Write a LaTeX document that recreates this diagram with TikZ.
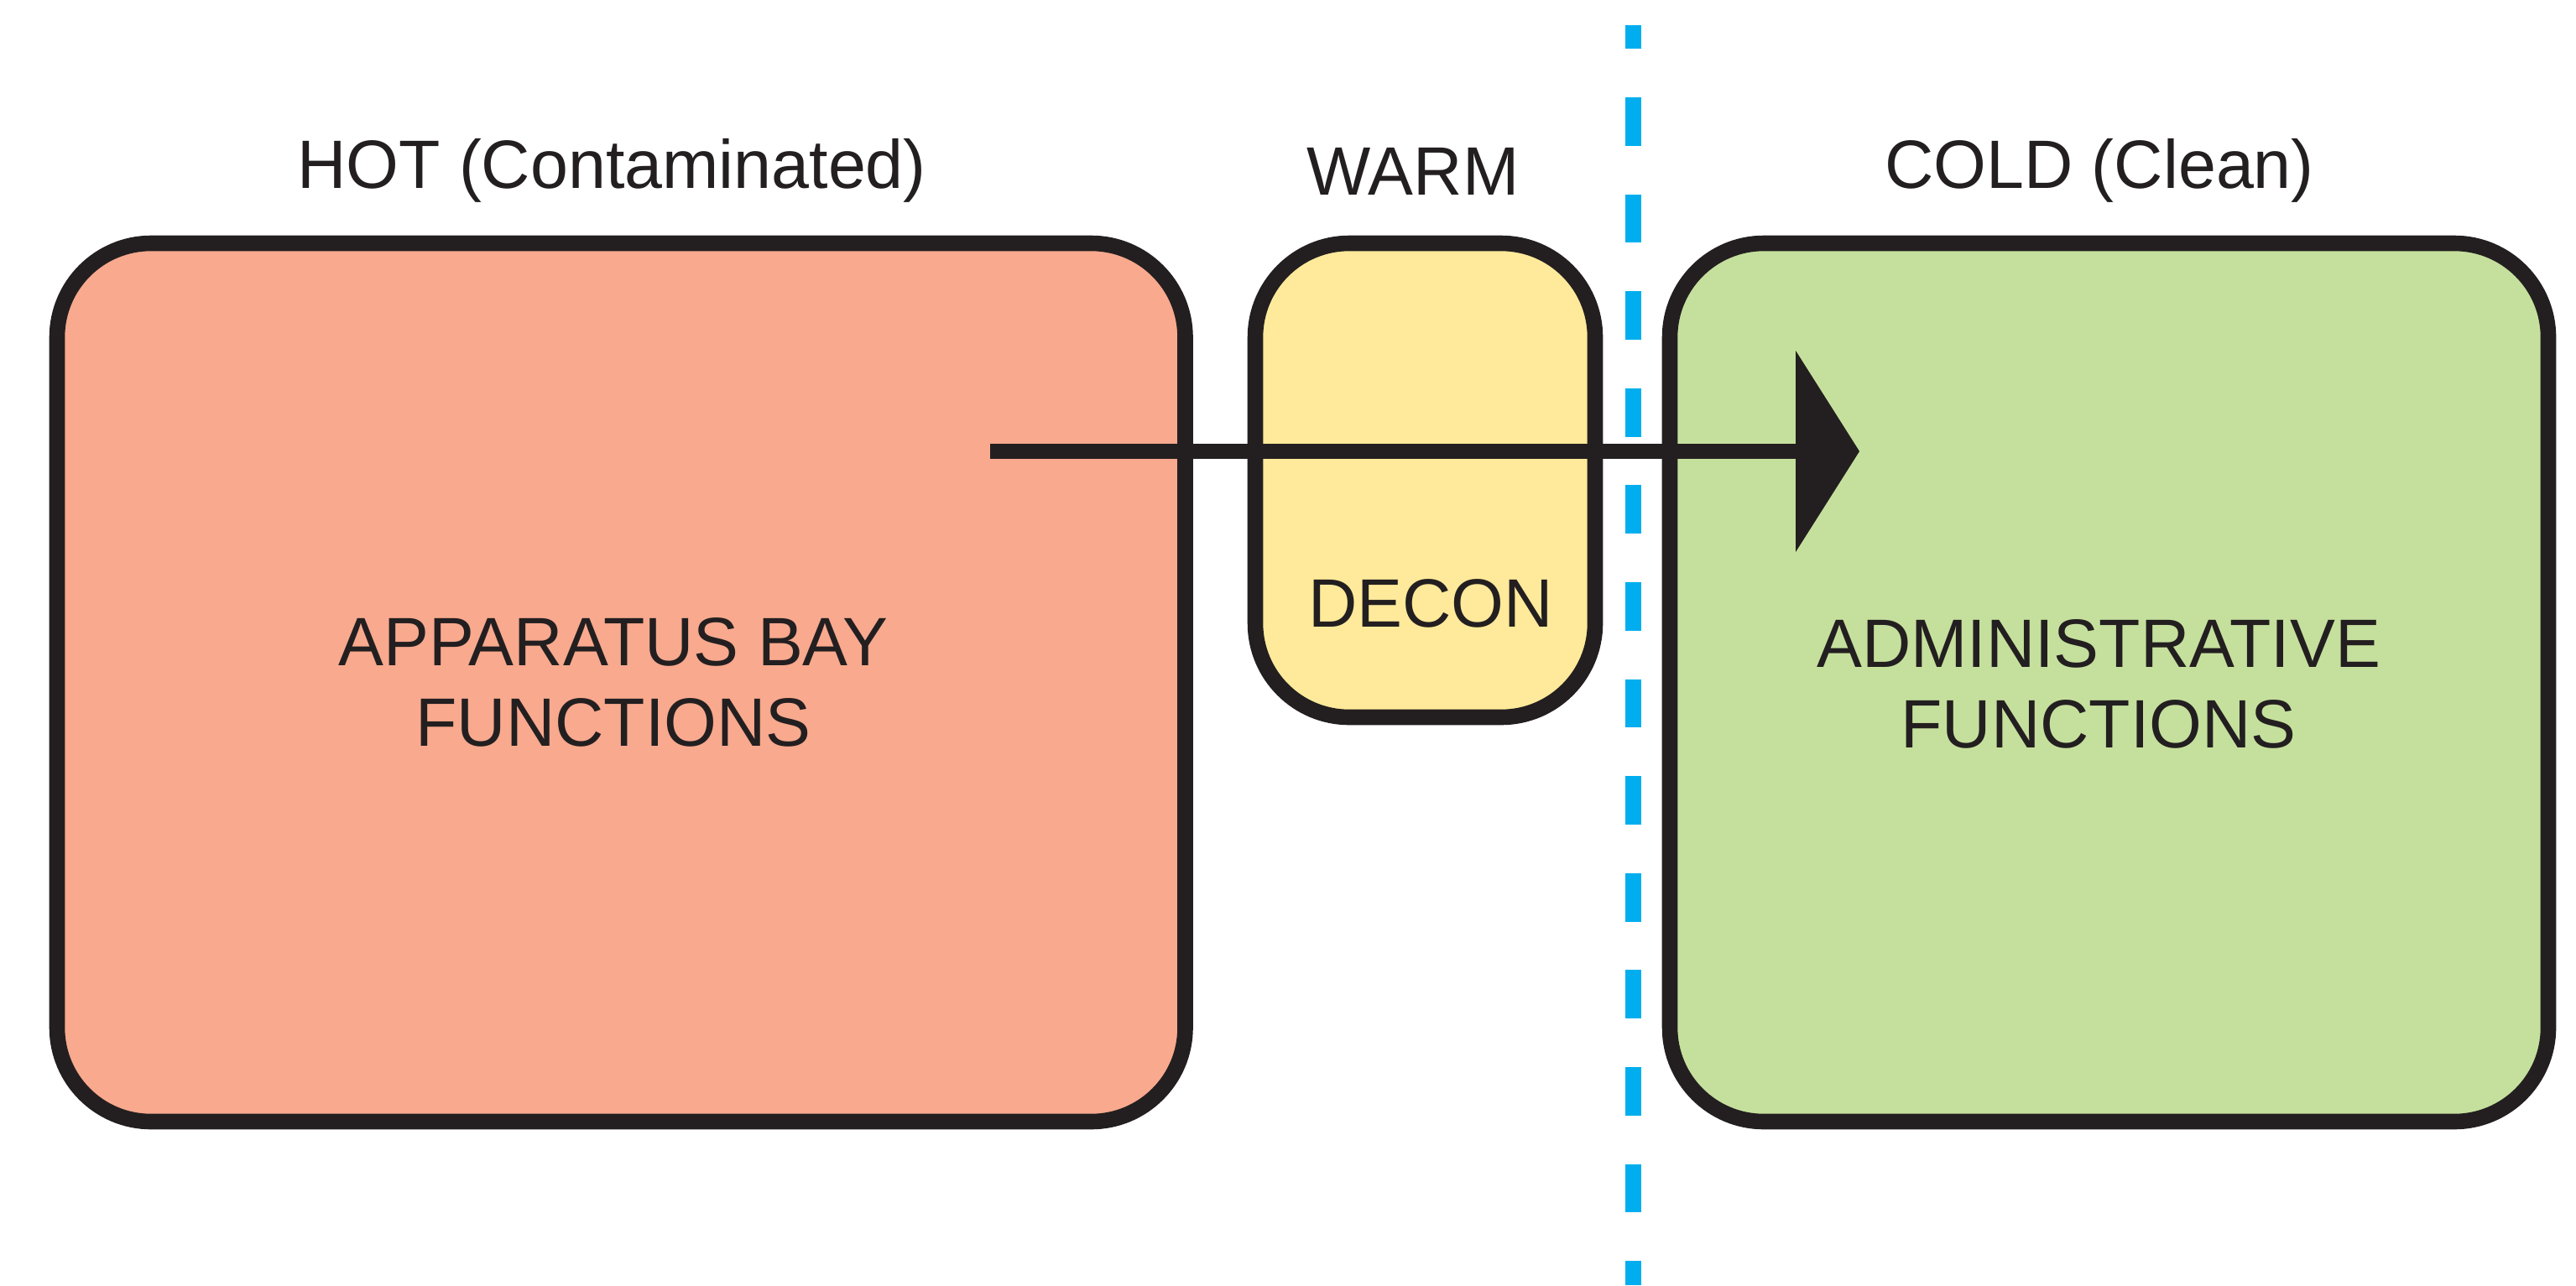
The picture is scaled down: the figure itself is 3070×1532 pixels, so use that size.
\documentclass[tikz,border=0pt]{standalone}
\usepackage{fontspec}
\setmainfont{Liberation Sans}[FakeStretch=0.99]
\usetikzlibrary{arrows.meta}
\definecolor{ink}{HTML}{231F20}
\definecolor{hotfill}{HTML}{F8A98E}
\definecolor{warmfill}{HTML}{FEEA9A}
\definecolor{coldfill}{HTML}{C5E09D}
\definecolor{divblue}{HTML}{00AEEF}
\begin{document}
\begin{tikzpicture}[x=0.25pt,y=-0.25pt,
  zone/.style={draw=ink, line width=4.65pt, rounded corners=28pt, inner sep=0pt, outer sep=0pt, rectangle},
  lbl/.style={text=ink, inner sep=0pt, outer sep=0pt, font=\fontsize{20.4}{24}\selectfont},
  divider/.style={draw=divblue, line width=4.75pt, dash pattern=on 14.45pt off 14.45pt, dash phase=7.4pt},
  flow/.style={draw=ink, line width=4.7pt, -{Triangle[length=19pt,width=60pt,line width=0pt]}}]
\useasboundingbox (0,0) rectangle (3070,1532);
% zones
\node[zone, fill=hotfill, minimum width=336.125pt, minimum height=261.75pt] (hot) at (740.25,813.5) {};
\node[zone, fill=warmfill, minimum width=101.25pt, minimum height=141.25pt] (warm) at (1698.5,572.5) {};
\node[zone, fill=coldfill, minimum width=261.75pt, minimum height=261.75pt] (cold) at (2513.5,813.5) {};
% headings
\node[lbl, anchor=base] (hottitle) at (729,224) {HOT (Contaminated)};
\node[lbl, anchor=base] (warmtitle) at (1684,232) {WARM};
\node[lbl, anchor=base] (coldtitle) at (2502,224) {COLD (Clean)};
% inner labels
\node[lbl, align=center] (hottext) at (731,813) {APPARATUS BAY\\FUNCTIONS};
\node[lbl, anchor=base] (warmtext) at (1705,747) {DECON};
\node[lbl, align=center] (coldtext) at (2501,815) {ADMINISTRATIVE\\FUNCTIONS};
% divider
\coordinate (divtop) at (1946.5,30);
\coordinate (divbot) at (1946.5,1532);
\draw[divider] (divtop) -- (divbot);
% flow arrow
\coordinate (flowstart) at (1180,538);
\coordinate (flowend) at (2216,538);
\draw[flow] (flowstart) -- (flowend);
\end{tikzpicture}
\end{document}
